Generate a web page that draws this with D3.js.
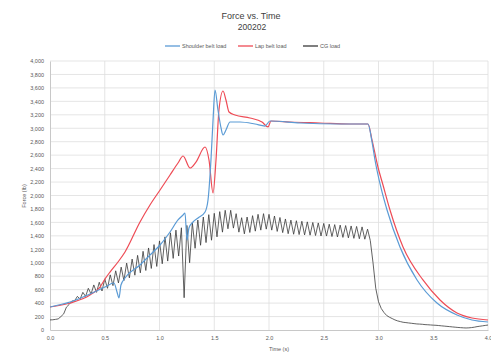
<!DOCTYPE html>
<html>
<head>
<meta charset="utf-8">
<script src="https://cdn.jsdelivr.net/npm/d3@7/dist/d3.min.js"></script>
<style>
  html, body { margin: 0; padding: 0; background: #fff; }
  svg { display: block; font-family: "Liberation Sans", Arial, sans-serif; }
</style>
</head>
<body>
<svg id="chart" width="491" height="356"></svg>
<script>
// Axis ticks
const timeTicks = [0, 0.5, 1.0, 1.5, 2.0, 2.5, 3.0, 3.5, 4.0];
const forceTicks = d3.range(0, 4001, 200);

// Shoulder belt load: [time s, force]
const shoulderLoad = [
  [0, 342], [0.183, 416], [0.365, 535], [0.502, 639], [0.584, 699], [0.612, 565],
  [0.630, 476], [0.648, 669], [0.685, 773], [0.822, 967], [0.913, 1115], [1.005, 1264],
  [1.096, 1457], [1.169, 1636], [1.215, 1710], [1.233, 1740], [1.251, 1338], [1.269, 1517],
  [1.306, 1606], [1.352, 1665], [1.416, 1755], [1.443, 1933], [1.470, 2528], [1.489, 3123],
  [1.507, 3569], [1.534, 3271], [1.562, 3004], [1.580, 2900], [1.607, 2974], [1.644, 3093],
  [1.735, 3093], [1.872, 3063], [1.963, 3033], [2.009, 3108], [2.283, 3078], [2.648, 3063],
  [2.904, 3063], [2.941, 2796], [2.968, 2528], [3.023, 2112], [3.078, 1784], [3.196, 1234],
  [3.352, 744], [3.534, 401], [3.717, 223], [3.854, 149], [4.0, 119]
];

// Lap belt load: [time s, force]
const lapLoad = [
  [0, 342], [0.183, 401], [0.365, 520], [0.457, 639], [0.502, 758], [0.548, 862],
  [0.621, 1011], [0.685, 1160], [0.822, 1606], [0.913, 1859], [1.005, 2082], [1.096, 2305],
  [1.169, 2483], [1.215, 2587], [1.279, 2409], [1.333, 2498], [1.416, 2721], [1.452, 2528],
  [1.489, 2037], [1.516, 2528], [1.543, 3271], [1.580, 3554], [1.607, 3420], [1.635, 3242],
  [1.689, 3197], [1.826, 3152], [1.936, 3093], [1.991, 3019], [2.018, 3108], [2.192, 3093],
  [2.466, 3078], [2.740, 3063], [2.904, 3063], [2.941, 2825], [2.995, 2424], [3.041, 2156],
  [3.105, 1784], [3.224, 1234], [3.406, 744], [3.562, 446], [3.717, 253], [3.854, 178],
  [4.0, 149]
];

// CG load, sampled every 0.025 s from 0 to 4.0 s
const cgSampleStep = 0.025;
const cgLoad = [
  150, 152, 158, 165, 200, 240, 340, 380, 430, 435,
  500, 460, 560, 500, 620, 535, 670, 560, 710, 580,
  760, 620, 820, 660, 880, 700, 935, 735, 995, 775,
  1055, 815, 1110, 850, 1170, 885, 1220, 915, 1270, 945,
  1325, 985, 1385, 1025, 1445, 1065, 1485, 1100, 1520, 480,
  1555, 1000, 1595, 1215, 1635, 1260, 1680, 1300, 1715, 1335,
  1735, 1385, 1760, 1455, 1780, 1505, 1780, 1515, 1730, 1455,
  1670, 1430, 1680, 1450, 1700, 1470, 1720, 1485, 1730, 1500,
  1720, 1485, 1695, 1466, 1673, 1448, 1651, 1432, 1634, 1424,
  1625, 1419, 1617, 1414, 1608, 1410, 1599, 1405, 1592, 1398,
  1585, 1397, 1573, 1390, 1567, 1383, 1560, 1377, 1553, 1370,
  1547, 1363, 1540, 1357, 1533, 1350, 1500, 1330, 1000, 620,
  420, 320, 260, 215, 190, 170, 150, 135, 125, 115,
  110, 105, 100, 95, 90, 88, 85, 80, 78, 75,
  72, 70, 66, 62, 58, 54, 50, 46, 42, 38,
  35, 32, 30, 32, 36, 42, 50, 56, 62, 68,
  74
];

const seriesNames = ["Shoulder belt load", "Lap belt load", "CG load"];
const seriesColors = ["#5b9bd5", "#ee4b55", "#3a3a3a"];

const svg = d3.select("#chart");
const W = 491, H = 356;
const margin = { top: 61, right: 3, bottom: 26, left: 50 };
const iw = W - margin.left - margin.right;
const ih = H - margin.top - margin.bottom;

const x = d3.scaleLinear().domain([0, 4]).range([margin.left, margin.left + iw]);
const y = d3.scaleLinear().domain([0, 4000]).range([margin.top + ih, margin.top]);

// Title
svg.append("text").attr("x", 251).attr("y", 19).attr("text-anchor", "middle")
  .attr("font-size", 9).attr("fill", "#404040").text("Force vs. Time");
svg.append("text").attr("x", 252).attr("y", 30).attr("text-anchor", "middle")
  .attr("font-size", 8.5).attr("fill", "#404040").text("200202");

// Gridlines
svg.append("g").selectAll("line").data(forceTicks.filter(d => d > 0)).join("line")
  .attr("x1", margin.left).attr("x2", margin.left + iw)
  .attr("y1", d => y(d)).attr("y2", d => y(d))
  .attr("stroke", "#dedede").attr("stroke-width", 0.8);
svg.append("g").selectAll("line").data(timeTicks.filter(d => d > 0)).join("line")
  .attr("x1", d => x(d)).attr("x2", d => x(d))
  .attr("y1", margin.top).attr("y2", margin.top + ih)
  .attr("stroke", "#dedede").attr("stroke-width", 0.8);

// Axes
const xAxis = d3.axisBottom(x).tickValues(timeTicks).tickFormat(d3.format(".1f")).tickSize(0).tickPadding(6);
const gx = svg.append("g").attr("transform", `translate(0,${margin.top + ih})`).call(xAxis);
gx.select(".domain").attr("stroke", "#c8c8c8");
gx.selectAll("text").attr("font-size", 5.5).attr("fill", "#595959");

const yAxis = d3.axisLeft(y).tickValues(forceTicks).tickFormat(d3.format(",")).tickSize(0).tickPadding(6);
const gy = svg.append("g").attr("transform", `translate(${margin.left},0)`).call(yAxis);
gy.select(".domain").attr("stroke", "#c8c8c8");
gy.selectAll("text").attr("font-size", 5.5).attr("fill", "#595959");

// Axis titles
svg.append("text").attr("transform", `translate(26,196) rotate(-90)`).attr("text-anchor", "middle")
  .attr("font-size", 5.5).attr("fill", "#595959").text("Force (lb)");
svg.append("text").attr("x", 279).attr("y", 351).attr("text-anchor", "middle")
  .attr("font-size", 5.5).attr("fill", "#595959").text("Time (s)");

// Series
const line = d3.line().x(d => x(d[0])).y(d => y(d[1]));
const smoothLine = d3.line().x(d => x(d[0])).y(d => y(d[1])).curve(d3.curveMonotoneX);
const cgPoints = cgLoad.map((v, i) => [i * cgSampleStep, v]);

svg.append("path").datum(cgPoints).attr("d", line)
  .attr("fill", "none").attr("stroke", seriesColors[2]).attr("stroke-width", 0.8);
svg.append("path").datum(lapLoad).attr("d", smoothLine)
  .attr("fill", "none").attr("stroke", seriesColors[1]).attr("stroke-width", 1.2);
svg.append("path").datum(shoulderLoad).attr("d", smoothLine)
  .attr("fill", "none").attr("stroke", seriesColors[0]).attr("stroke-width", 1.2);

// Legend
const legendX = [165, 238, 303];
const lg = svg.append("g");
seriesNames.forEach((name, i) => {
  lg.append("line").attr("x1", legendX[i]).attr("x2", legendX[i] + 15)
    .attr("y1", 46).attr("y2", 46).attr("stroke", seriesColors[i]).attr("stroke-width", 1.3);
  lg.append("text").attr("x", legendX[i] + 17).attr("y", 48)
    .attr("font-size", 5.5).attr("fill", "#595959").text(name);
});
</script>
</body>
</html>
